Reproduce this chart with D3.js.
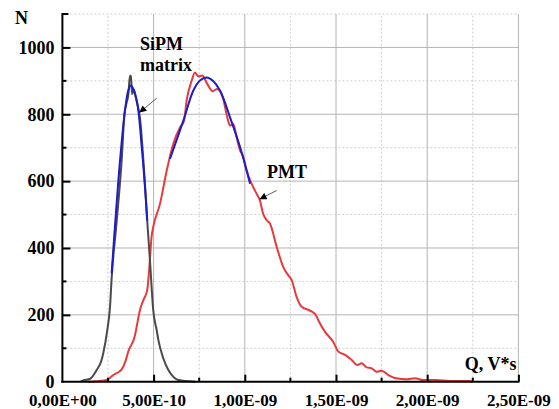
<!DOCTYPE html>
<html>
<head>
<meta charset="utf-8">
<script src="https://cdn.jsdelivr.net/npm/d3@7"></script>
<style>
  body { margin: 0; background: #fff; }
  text { font-family: "Liberation Serif", "Times New Roman", serif; font-weight: bold; fill: #000; }
</style>
</head>
<body>
<main></main>
<script>
// Q values in units of 1e-10 V*s, N counts
const sipmQ = [1.0, 1.15, 1.5, 1.88, 2.15, 2.24, 2.46, 2.61, 2.70, 2.98, 3.25, 3.40, 3.50, 3.62, 3.70, 3.76, 3.82, 3.90, 3.98, 4.11, 4.25, 4.44, 4.65, 4.80, 4.98, 5.17, 5.26, 5.53, 5.81, 6.0, 6.27, 6.6, 7.0, 7.3]
const sipmN = [0, 4, 8, 35, 65, 85, 154, 224, 310, 482, 662, 800, 830, 860, 915, 915, 860, 875, 860, 830, 790, 662, 482, 363, 214, 154, 125, 70, 35, 20, 7, 3, 1, 0]

const sipmFitQ = [2.70, 2.88, 3.16, 3.43, 3.61, 3.74, 3.89, 4.11, 4.35, 4.53, 4.65]
const sipmFitN = [324, 463, 662, 811, 871, 886, 876, 831, 702, 582, 482]

const pmtQ = [1.40, 1.8, 2.43, 2.79, 3.25, 3.45, 3.61, 3.98, 4.07, 4.25, 4.44, 4.65, 4.77, 4.89, 4.98, 5.35, 5.72, 6.08, 6.45, 6.67, 6.81, 7.09, 7.27, 7.45, 7.67, 7.94, 8.24, 8.49, 8.79, 9.04, 9.19, 9.37, 9.55, 9.74, 9.92, 10.1, 10.38, 10.65, 10.83, 11.0, 11.2, 11.38, 11.75, 12.11, 12.39, 12.57, 12.84, 13.12, 13.6, 13.9, 14.03, 14.4, 14.85, 15.13, 15.5, 15.86, 16.17, 16.41, 16.68, 16.96, 17.23, 17.5, 17.87, 18.3, 18.88, 19.33, 19.79, 20.5, 21.25, 22.34, 22.5]
const pmtN = [0, 1, 5, 20, 37, 60, 90, 139, 164, 214, 244, 274, 344, 434, 463, 532, 632, 712, 761, 781, 841, 901, 925, 913, 916, 891, 869, 876, 851, 791, 766, 771, 731, 692, 672, 632, 592, 562, 542, 503, 483, 473, 403, 343, 318, 304, 254, 224, 212, 199, 184, 149, 119, 90, 80, 65, 50, 55, 43, 40, 30, 33, 20, 10, 7, 10, 5, 5, 2, 2, 0]

const pmtFitQ = [5.90, 6.63, 7.18, 7.54, 7.91, 8.25, 8.64, 9.19, 9.74, 10.29]
const pmtFitN = [667, 781, 871, 901, 910, 900, 871, 791, 702, 592]

const xTicks = [0, 5, 10, 15, 20, 25]
const xTickLabels = ["0,00E+00", "5,00E-10", "1,00E-09", "1,50E-09", "2,00E-09", "2,50E-09"]
const yTicks = [0, 200, 400, 600, 800, 1000]

const width = 559, height = 409
const margin = { top: 14, bottom: 27.3, left: 62.4, right: 40.6 }

let svg = d3.select("main").append("svg")
    .attr("width", width)
    .attr("height", height)

let x = d3.scaleLinear().domain([0, 25]).range([margin.left, width - margin.right])
let y = d3.scaleLinear().domain([0, 1100]).range([height - margin.bottom, margin.top])

let xMinor = d3.range(2.5, 25, 5)
let yMinor = d3.range(100, 1101, 200)

// grid
let grid = svg.append("g")
grid.selectAll(".vmin").data(xMinor).enter().append("line")
    .attr("x1", d => x(d)).attr("x2", d => x(d))
    .attr("y1", y(0)).attr("y2", y(1100))
    .attr("stroke", "#cfcfcf").attr("stroke-dasharray", "2,2")
grid.selectAll(".hmin").data(yMinor).enter().append("line")
    .attr("y1", d => y(d)).attr("y2", d => y(d))
    .attr("x1", x(0)).attr("x2", x(25))
    .attr("stroke", "#cfcfcf").attr("stroke-dasharray", "2,2")
grid.selectAll(".vmaj").data(xTicks.slice(1)).enter().append("line")
    .attr("x1", d => x(d)).attr("x2", d => x(d))
    .attr("y1", y(0)).attr("y2", y(1100))
    .attr("stroke", "#b4b4b4")
grid.selectAll(".hmaj").data(yTicks.slice(1)).enter().append("line")
    .attr("y1", d => y(d)).attr("y2", d => y(d))
    .attr("x1", x(0)).attr("x2", x(25))
    .attr("stroke", "#b4b4b4")

// curves
let pts = (qs, ns) => qs.map((q, i) => [q, ns[i]])
let line = d3.line().x(d => x(d[0])).y(d => y(d[1])).curve(d3.curveMonotoneX)
let smooth = d3.line().x(d => x(d[0])).y(d => y(d[1])).curve(d3.curveCatmullRom)

svg.append("path").datum(pts(pmtQ, pmtN)).attr("d", line)
    .attr("fill", "none").attr("stroke", "#e8393c").attr("stroke-width", 2)
svg.append("path").datum(pts(sipmQ, sipmN)).attr("d", line)
    .attr("fill", "none").attr("stroke", "#4a4a4a").attr("stroke-width", 2)
svg.append("path").datum(pts(sipmFitQ, sipmFitN)).attr("d", smooth)
    .attr("fill", "none").attr("stroke", "#1c1cc8").attr("stroke-width", 2)
svg.append("path").datum(pts(pmtFitQ, pmtFitN)).attr("d", smooth)
    .attr("fill", "none").attr("stroke", "#1c1cc8").attr("stroke-width", 2)

// axes
let xAxis = svg.append("g").attr("transform", `translate(0,${y(0)})`)
    .call(d3.axisBottom(x).tickValues(xTicks).tickSizeInner(-7).tickSizeOuter(0).tickFormat((d, i) => xTickLabels[i]))
xAxis.selectAll(".tick").filter(d => d === 0).select("line").remove()
xAxis.append("g").selectAll("line").data(xMinor).enter().append("line")
    .attr("x1", d => x(d)).attr("x2", d => x(d)).attr("y1", 0).attr("y2", -4)
    .attr("stroke", "#000").attr("stroke-width", 2)
xAxis.selectAll(".tick line").attr("stroke-width", 2)
xAxis.select(".domain").attr("stroke-width", 2).attr("d", `M${x(0) - 1},0H${x(25) + 1}`)
xAxis.selectAll(".tick text").attr("y", 12).attr("dy", "0.71em")
    .style("font-size", "17px")

let yAxis = svg.append("g").attr("transform", `translate(${x(0)},0)`)
    .call(d3.axisLeft(y).tickValues(yTicks).tickSizeInner(-8).tickSizeOuter(0).tickFormat(d3.format("d")))
yAxis.selectAll(".tick").filter(d => d === 0).select("line").remove()
yAxis.append("g").selectAll("line").data(yMinor).enter().append("line")
    .attr("y1", d => y(d)).attr("y2", d => y(d)).attr("x1", 0).attr("x2", d => d === 1100 ? 6 : 4)
    .attr("stroke", "#000").attr("stroke-width", 2)
yAxis.selectAll(".tick line").attr("stroke-width", 2)
yAxis.select(".domain").attr("stroke-width", 2).attr("d", `M0,${y(1100) - 1}V${y(0) + 1}`)
yAxis.selectAll(".tick text").attr("x", -8)
    .style("font-size", "18px")

// titles
svg.append("text").attr("x", 15).attr("y", 23.5).style("font-size", "18px").text("N")
svg.append("text").attr("x", x(25) - 2).attr("y", 369.5).attr("text-anchor", "end").style("font-size", "18px").text("Q, V*s")

// annotations
svg.append("defs").append("marker")
    .attr("id", "arr").attr("viewBox", "0 0 10 10").attr("refX", 10).attr("refY", 5)
    .attr("markerWidth", 9).attr("markerHeight", 7).attr("markerUnits", "userSpaceOnUse")
    .attr("orient", "auto")
    .append("path").attr("d", "M0,0L10,5L0,10z").attr("fill", "#000")

let notes = [
    { lines: ["SiPM", "matrix"], tq: 4.25, tn: 992, from: [5.17, 848], to: [4.22, 805] },
    { lines: ["PMT"], tq: 11.22, tn: 609, from: [11.75, 572], to: [10.81, 546] }
]
notes.forEach(n => {
    let t = svg.append("text").attr("x", x(n.tq)).attr("y", y(n.tn)).style("font-size", "18px")
    n.lines.forEach((l, i) => t.append("tspan").attr("x", x(n.tq)).attr("dy", i ? 20.5 : 0).text(l))
    svg.append("line")
        .attr("x1", x(n.from[0])).attr("y1", y(n.from[1]))
        .attr("x2", x(n.to[0])).attr("y2", y(n.to[1]))
        .attr("stroke", "#333").attr("stroke-width", 0.8)
        .attr("marker-end", "url(#arr)")
})
</script>
</body>
</html>
